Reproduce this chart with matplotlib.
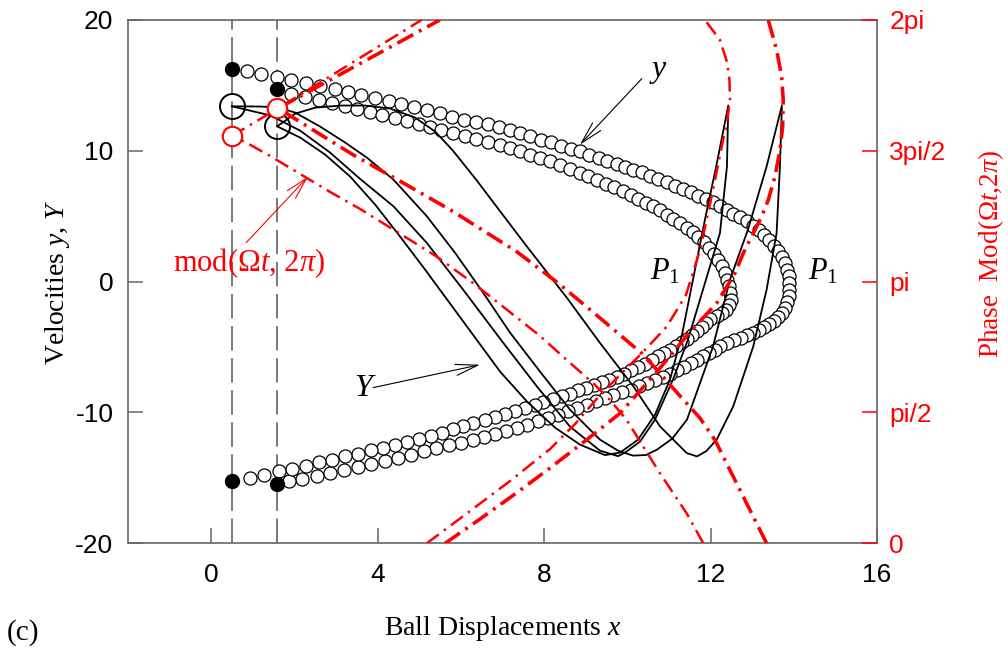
import numpy as np
import matplotlib
matplotlib.use("Agg")
import matplotlib.pyplot as plt

plt.rcParams['font.family'] = ['Liberation Sans', 'DejaVu Sans']
plt.rcParams['mathtext.fontset'] = 'custom'
plt.rcParams['mathtext.rm'] = 'Liberation Serif'
plt.rcParams['mathtext.it'] = 'Liberation Serif:italic'
plt.rcParams['axes.unicode_minus'] = False

###################
# Data read off   #
###################
wall_x = [0.5, 1.58]

# ball velocity y, outer loop (leaves x=0.5, turns at ~13.9, lands at x=1.58)
outer_start = (0.5, 16.26)
outer_end = (1.58, -15.44)
outer_top_x = [0.848, 1.208, 1.569, 1.929, 2.275, 2.626, 2.971, 3.291, 3.610, 3.947, 4.269, 4.571,
               4.876, 5.188, 5.494, 5.789, 6.077, 6.373, 6.654, 6.911, 7.182, 7.423, 7.663, 7.920,
               8.160, 8.400, 8.640, 8.864, 9.087, 9.313, 9.520, 9.745, 9.945, 10.144, 10.346, 10.545,
               10.745, 10.946, 11.146, 11.345, 11.523, 11.706, 11.883, 12.051, 12.227, 12.388, 12.546,
               12.707, 12.868, 13.012, 13.156, 13.284, 13.411, 13.524, 13.627, 13.709, 13.788, 13.843,
               13.877, 13.892, 13.892, 13.877]
outer_top_y = [16.10, 15.86, 15.62, 15.40, 15.16, 14.92, 14.69, 14.46, 14.24, 14.02, 13.79, 13.56,
               13.34, 13.11, 12.88, 12.62, 12.39, 12.22, 12.02, 11.84, 11.62, 11.37, 11.11, 10.86,
               10.65, 10.40, 10.15, 9.96, 9.71, 9.46, 9.25, 9.02, 8.77, 8.56, 8.36, 8.10,
               7.85, 7.59, 7.34, 7.09, 6.83, 6.57, 6.32, 6.06, 5.76, 5.50, 5.20,
               4.95, 4.61, 4.28, 3.98, 3.59, 3.21, 2.75, 2.32, 1.89, 1.43, 0.92,
               0.41, -0.10, -0.61, -1.12]
outer_bot_x = [13.848, 13.788, 13.716, 13.627, 13.524, 13.411, 13.291, 13.164, 13.027, 12.883, 12.731,
               12.570, 12.402, 12.227, 12.107, 11.970, 11.826, 11.682, 11.523, 11.362, 11.201, 11.026,
               10.850, 10.665, 10.480, 10.288, 10.082, 9.865, 9.664, 9.464, 9.248, 9.025, 8.799, 8.583,
               8.343, 8.102, 7.862, 7.583, 7.343, 7.079, 6.815, 6.558, 6.294, 5.998, 5.710, 5.412,
               5.116, 4.812, 4.492, 4.172, 3.851, 3.531, 3.195, 2.866, 2.530, 2.186, 1.866]
outer_bot_y = [-1.53, -1.99, -2.37, -2.71, -3.00, -3.26, -3.49, -3.71, -3.91, -4.11, -4.30,
               -4.49, -4.69, -4.95, -5.20, -5.45, -5.71, -5.96, -6.22, -6.52, -6.78, -7.03,
               -7.29, -7.49, -7.75, -8.00, -8.26, -8.46, -8.69, -8.89, -9.15, -9.40, -9.66, -9.92,
               -10.17, -10.42, -10.68, -10.93, -11.19, -11.40, -11.62, -11.84, -12.07, -12.30, -12.51, -12.72,
               -12.97, -13.23, -13.48, -13.72, -13.94, -14.17, -14.41, -14.63, -14.86, -15.06, -15.27]

# ball velocity y, inner loop (leaves x=1.58, turns at ~12.5, lands at x=0.5)
inner_start = (1.58, 14.73)
inner_end = (0.5, -15.27)
inner_top_x = [1.929, 2.251, 2.587, 2.907, 3.212, 3.514, 3.812, 4.108, 4.413, 4.701, 4.989, 5.253,
               5.532, 5.813, 6.094, 6.373, 6.654, 6.935, 7.182, 7.423, 7.663, 7.903, 8.143, 8.383,
               8.624, 8.864, 9.063, 9.265, 9.488, 9.681, 9.889, 10.082, 10.265, 10.449, 10.625, 10.786,
               10.946, 11.105, 11.266, 11.427, 11.571, 11.706, 11.843, 11.970, 12.083, 12.186, 12.268,
               12.347, 12.402, 12.450, 12.467, 12.483]
inner_top_y = [14.37, 14.14, 13.91, 13.68, 13.45, 13.22, 12.99, 12.76, 12.53, 12.30, 12.07, 11.84,
               11.61, 11.38, 11.15, 10.92, 10.69, 10.46, 10.22, 9.96, 9.71, 9.46, 9.20, 8.94,
               8.62, 8.31, 8.05, 7.80, 7.49, 7.21, 6.90, 6.63, 6.32, 6.02, 5.76, 5.45,
               5.12, 4.79, 4.49, 4.11, 3.77, 3.42, 3.00, 2.58, 2.14, 1.68, 1.17,
               0.67, 0.15, -0.36, -0.86, -1.38]
inner_bot_x = [12.443, 12.371, 12.275, 12.167, 11.987, 11.890, 11.787, 11.667, 11.547, 11.427, 11.306,
               11.170, 11.026, 10.882, 10.745, 10.586, 10.425, 10.265, 10.082, 9.921, 9.745, 9.568,
               9.385, 9.200, 9.008, 8.823, 8.624, 8.424, 8.208, 7.982, 7.783, 7.543, 7.302, 7.062,
               6.822, 6.582, 6.301, 6.050, 5.813, 5.549, 5.277, 4.989, 4.715, 4.427, 4.139, 3.851,
               3.531, 3.226, 2.907, 2.594, 2.275, 1.946, 1.626, 1.273, 0.930]
inner_bot_y = [-1.80, -2.14, -2.41, -2.64, -2.85, -3.16, -3.46, -3.80, -4.05, -4.38, -4.64,
               -4.95, -5.20, -5.45, -5.71, -6.02, -6.27, -6.52, -6.78, -7.03, -7.29, -7.49,
               -7.70, -7.90, -8.10, -8.31, -8.56, -8.77, -8.97, -9.23, -9.40, -9.66, -9.90, -10.12,
               -10.33, -10.55, -10.80, -11.05, -11.30, -11.55, -11.80, -12.03, -12.26, -12.46, -12.71, -12.90,
               -13.15, -13.36, -13.61, -13.81, -14.07, -14.30, -14.50, -14.76, -15.01]

# wall velocity Y along the two flights
wall_v_start = [(0.5, 13.40), (1.58, 11.87)]
Y_a_x = [0.497, 1.057, 1.585, 2.018, 2.618, 3.219, 3.740, 4.379, 5.181, 5.861, 6.534, 7.182, 7.903,
         8.624, 9.344, 9.777, 10.137, 10.45, 10.713, 11.080, 11.434, 12.059, 12.467, 12.900, 13.348,
         13.716, 13.668, 13.588, 13.348, 13.027, 12.546, 12.147, 11.900, 11.674, 11.427, 10.785,
         10.144, 9.344, 8.544, 7.583, 6.966, 6.366, 5.789, 5.381, 4.900, 4.300, 3.699, 3.123, 2.498,
         2.018, 1.585]
Y_a_y = [13.40, 13.39, 13.34, 12.92, 11.85, 10.63, 9.48, 7.80, 5.00, 2.20, -0.84, -3.90, -6.88,
         -9.79, -12.08, -12.92, -13.30, -13.25, -12.84, -12.00, -10.55, -4.97, 0.15, 3.98, 8.81,
         13.46, 8.81, 3.72, -0.61, -4.95, -9.53, -12.08, -12.95, -13.36, -13.10, -11.06,
         -8.00, -4.69, -1.22, 2.70, 5.28, 7.80, 10.09, 11.47, 12.54, 13.23, 13.46, 13.46, 13.30,
         12.84, 11.87]
Y_b_x = [1.585, 2.138, 2.738, 3.339, 3.939, 4.540, 5.140, 5.741, 6.342, 6.942, 7.591, 8.263, 8.864,
         9.464, 9.825, 10.257, 10.665, 11.026, 11.314, 11.578, 11.866, 12.155, 12.426, 12.395, 12.227,
         11.746, 11.458, 11.098, 10.665, 10.305, 9.945, 9.777, 9.344, 8.624, 7.824, 7.021, 6.053,
         5.181, 4.379, 3.579, 2.858, 2.138, 1.417, 0.497]
Y_b_y = [11.87, 11.01, 9.71, 8.03, 5.89, 3.44, 0.92, -1.68, -4.28, -6.88, -9.17, -11.16, -12.46,
         -13.26, -13.07, -12.08, -10.17, -7.49, -4.05, 0.15, 4.74, 9.10, 13.46, 8.81, 3.72,
         -1.38, -4.43, -7.49, -10.55, -12.23, -13.07, -13.34, -12.92, -11.09, -8.00, -4.69, -0.61,
         2.96, 5.76, 7.85, 9.86, 11.54, 12.71, 13.40]

# phase mod(Omega t, 2 pi) [rad] along the flights
phase_start = [(0.5, 4.890), (1.58, 5.223)]
ph_thin_out1_x = [0.488, 1.609, 5.052]
ph_thin_out1_p = [4.890, 5.223, 6.283]
ph_thin_out2_x = [5.181, 6.221, 7.182, 8.143, 8.744, 9.344, 9.849, 10.346, 10.946, 11.410, 11.746,
                  12.035, 12.251, 12.395, 12.467, 12.455, 12.395, 12.227, 11.866]
ph_thin_out2_p = [0.0, 0.388, 0.748, 1.132, 1.432, 1.781, 2.033, 2.281, 2.601, 2.981, 3.522,
                  4.182, 4.722, 5.059, 5.323, 5.563, 5.779, 6.043, 6.283]
ph_thin_back_x = [11.826, 11.427, 10.786, 10.384, 9.986, 9.584, 9.183, 8.544, 7.903, 7.062, 6.301,
                  5.422, 4.701, 3.579, 2.858, 2.217, 1.417, 0.817, 0.488]
ph_thin_back_p = [0.0, 0.360, 0.840, 1.160, 1.480, 1.721, 1.921, 2.201, 2.489, 2.822, 3.122,
                  3.441, 3.666, 4.014, 4.218, 4.410, 4.650, 4.818, 4.890]
ph_thick_out1_x = [1.609, 5.494]
ph_thick_out1_p = [5.223, 6.283]
ph_thick_out2_x = [5.621, 6.462, 7.302, 8.143, 8.984, 9.825, 10.707, 11.506, 12.147, 12.587, 12.786,
                   13.027, 13.228, 13.387, 13.548, 13.668, 13.733, 13.747, 13.709, 13.589, 13.387]
ph_thick_out2_p = [0.0, 0.292, 0.592, 0.904, 1.228, 1.561, 2.057, 2.537, 2.882, 3.242, 3.482,
                   3.722, 3.922, 4.122, 4.402, 4.722, 5.002, 5.323, 5.603, 5.923, 6.283]
ph_thick_back_x = [13.348, 12.947, 12.546, 12.107, 11.746, 11.266, 10.713, 10.346, 9.344, 8.343, 7.343,
                   5.820, 4.701, 3.418, 1.609]
ph_thick_back_p = [0.0, 0.400, 0.800, 1.240, 1.504, 1.769, 2.081, 2.281, 2.705, 3.122, 3.501,
                   3.982, 4.302, 4.662, 5.223]

x_ticks = [0, 4, 8, 12, 16]
y_ticks = [-20, -10, 0, 10, 20]
y_tick_labels = ["-20", "-10", "0", "10", "20"]
phase_ticks = [0, np.pi / 2, np.pi, 3 * np.pi / 2, 2 * np.pi]
phase_tick_labels = ["0", "pi/2", "pi", "3pi/2", "2pi"]

###################
# Figure          #
###################
gray = "#666666"
serif = "Liberation Serif"
fig = plt.figure(figsize=(10.08, 6.53), dpi=100)
ax = fig.add_axes([0.127, 0.168, 0.743, 0.8014])
ax.set_xlim(-2, 16)
ax.set_ylim(-20, 20)

for wx in wall_x:
    ax.axvline(wx, color="#555555", lw=1.1, dashes=(16, 5), zorder=1)

# ball velocity (open circles)
circ = dict(ls="none", marker="o", ms=9.4, mfc="white", mec="black", mew=0.9, zorder=2)
ax.plot(outer_top_x, outer_top_y, **circ)
ax.plot(outer_bot_x, outer_bot_y, **circ)
ax.plot(inner_top_x, inner_top_y, **circ)
ax.plot(inner_bot_x, inner_bot_y, **circ)
for pt in [outer_start, outer_end, inner_start, inner_end]:
    ax.plot(*pt, ls="none", marker="o", ms=10, mfc="black", mec="black", zorder=4)

# wall velocity
ax.plot(Y_a_x, Y_a_y, color="black", lw=1.3, zorder=3)
ax.plot(Y_b_x, Y_b_y, color="black", lw=1.3, zorder=3)
for pt in wall_v_start:
    ax.plot(*pt, ls="none", marker="o", ms=18, mfc="none", mec="black", mew=1.4, zorder=4)

ax.set_xticks(x_ticks)
ax.set_xticklabels([str(v) for v in x_ticks])
ax.set_yticks(y_ticks)
ax.set_yticklabels(y_tick_labels)
ax.tick_params(axis="both", direction="in", length=11, width=1.1, color=gray, labelsize=19)
ax.tick_params(axis="x", pad=14)
ax.tick_params(axis="y", pad=10.5)
for s in ax.spines.values():
    s.set_color(gray)
    s.set_linewidth(1.2)

# phase on the right axis
ax2 = ax.twinx()
ax2.set_ylim(0, 2 * np.pi)
thin = dict(color="red", lw=1.8, dashes=(6, 2.5, 1, 2.5))
thick = dict(color="red", lw=2.6, dashes=(5, 1.8, 0.8, 1.8))
ax2.plot(ph_thin_out1_x, ph_thin_out1_p, **thin)
ax2.plot(ph_thin_out2_x, ph_thin_out2_p, **thin)
ax2.plot(ph_thin_back_x, ph_thin_back_p, **thin)
ax2.plot(ph_thick_out1_x, ph_thick_out1_p, **thick)
ax2.plot(ph_thick_out2_x, ph_thick_out2_p, **thick)
ax2.plot(ph_thick_back_x, ph_thick_back_p, **thick)
for pt in phase_start:
    ax2.plot(*pt, ls="none", marker="o", ms=14, mfc="white", mec="red", mew=1.5, zorder=5)
ax2.set_yticks(phase_ticks)
ax2.set_yticklabels(phase_tick_labels)
ax2.tick_params(axis="y", direction="in", length=11, width=1.1, colors="red", labelsize=19, pad=9)
for s in ax2.spines.values():
    s.set_visible(False)

# annotations
arrow = dict(arrowstyle="->,head_length=0.8,head_width=0.2", lw=0.8, mutation_scale=20,
             shrinkA=0, shrinkB=0)
ax.annotate("", xy=(8.86, 10.47), xytext=(10.35, 15.52), arrowprops=dict(color="black", **arrow))
ax.annotate("", xy=(6.46, -6.35), xytext=(3.89, -8.10), arrowprops=dict(color="black", **arrow))
ax.annotate("", xy=(2.33, 8.03), xytext=(0.84, 2.98), arrowprops=dict(color="red", **arrow))
ax.text(10.76, 16.1, "$y$", fontsize=23, ha="center", va="center")
ax.text(3.70, -8.1, "$Y$", fontsize=23, ha="center", va="center")
ax.text(10.55, 0.15, "$P_1$", fontsize=22, ha="left", va="baseline")
ax.text(14.34, 0.15, "$P_1$", fontsize=22, ha="left", va="baseline")
ax.text(-0.91, 0.79, r"mod($\Omega t$, $2\pi$)", family=serif, fontsize=22, color="red",
        ha="left", va="baseline")

fig.text(503 / 1008, 1 - 635 / 653, r"Ball Displacements $x$", family=serif, fontsize=20,
         ha="center", va="baseline")
fig.text(57 / 1008, 1 - 282 / 653, r"Velocities $y$, $Y$", family=serif, fontsize=20,
         rotation=90, ha="center", va="center")
fig.text(991 / 1008, 1 - 254 / 653, r"Phase  Mod($\Omega t$,$2\pi$)", family=serif, fontsize=19.5,
         color="red", rotation=90, ha="center", va="center")
fig.text(7 / 1008, 1 - 633 / 653, "(c)", family=serif, fontsize=21, ha="left", va="center")

fig.savefig("out.png", dpi=100)
